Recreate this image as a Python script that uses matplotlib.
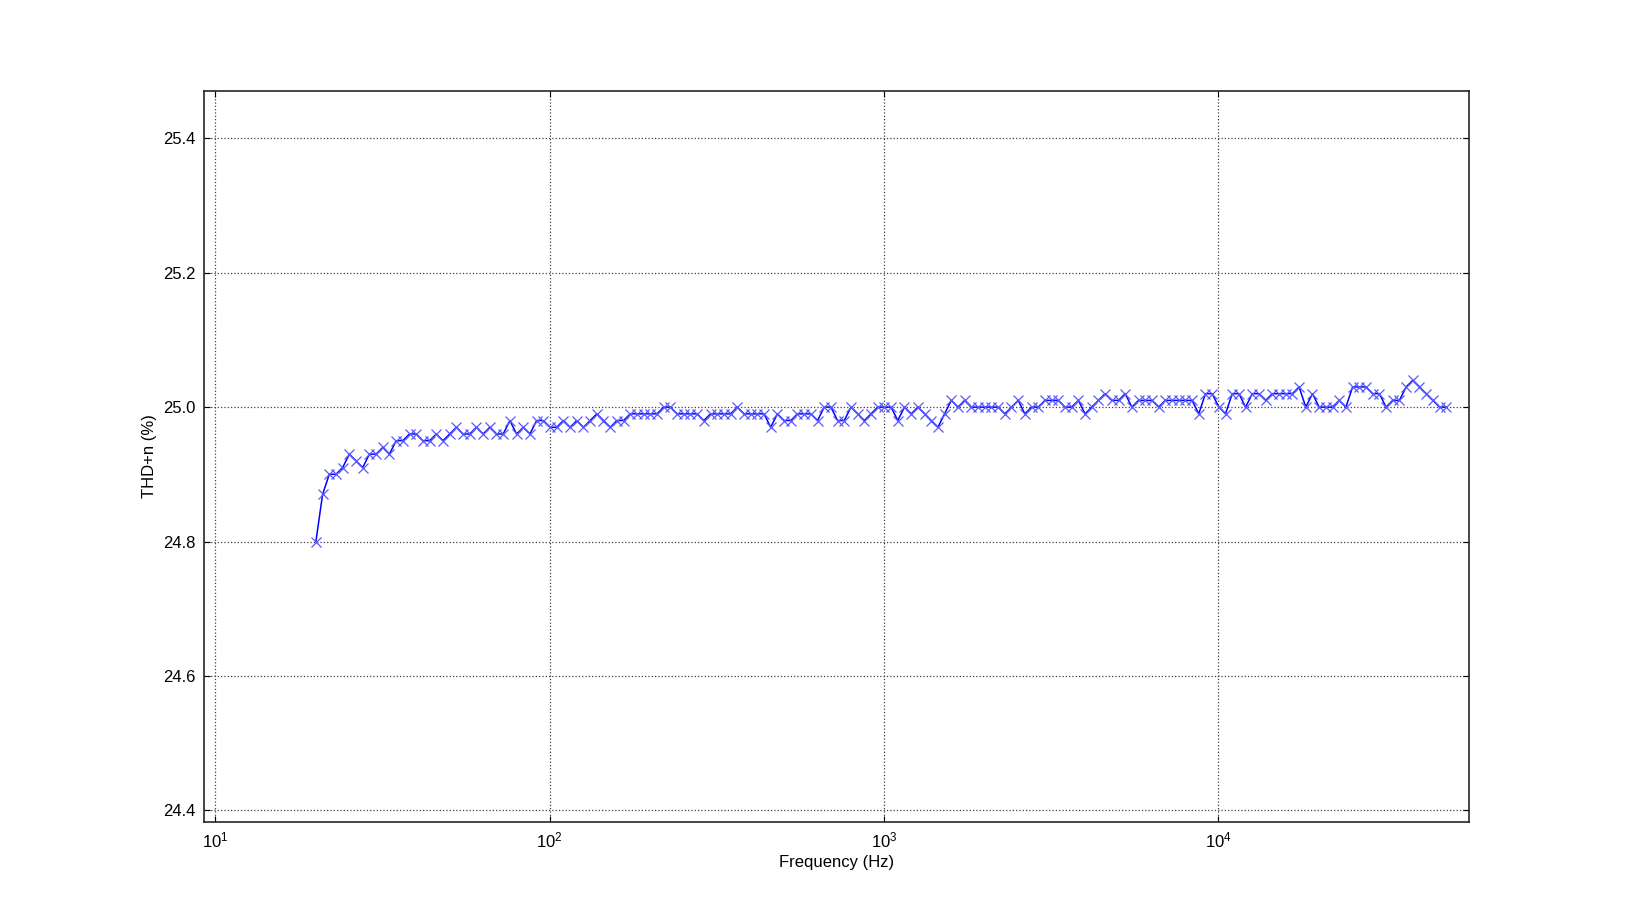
import numpy as np
import matplotlib
matplotlib.use('Agg')
import matplotlib.pyplot as plt
from matplotlib.ticker import LogLocator, FixedLocator, FormatStrFormatter, NullLocator

plt.rcParams['font.family'] = ['Liberation Sans', 'DejaVu Sans']
plt.rcParams['mathtext.fontset'] = 'custom'
plt.rcParams['mathtext.rm'] = 'Liberation Sans'
plt.rcParams['mathtext.it'] = 'Liberation Sans:italic'
plt.rcParams['mathtext.bf'] = 'Liberation Sans:bold'

# sweep: 20 Hz .. 48 kHz, 170 log-spaced steps
f_start = 20.0
f_stop = 48000.0
n_points = 170

thd_n = [
    24.80, 24.87, 24.90, 24.90, 24.91, 24.93, 24.92, 24.91, 24.93, 24.93,
    24.94, 24.93, 24.95, 24.95, 24.96, 24.96, 24.95, 24.95, 24.96, 24.95,
    24.96, 24.97, 24.96, 24.96, 24.97, 24.96, 24.97, 24.96, 24.96, 24.98,
    24.96, 24.97, 24.96, 24.98, 24.98, 24.97, 24.97, 24.98, 24.97, 24.98,
    24.97, 24.98, 24.99, 24.98, 24.97, 24.98, 24.98, 24.99, 24.99, 24.99,
    24.99, 24.99, 25.00, 25.00, 24.99, 24.99, 24.99, 24.99, 24.98, 24.99,
    24.99, 24.99, 24.99, 25.00, 24.99, 24.99, 24.99, 24.99, 24.97, 24.99,
    24.98, 24.98, 24.99, 24.99, 24.99, 24.98, 25.00, 25.00, 24.98, 24.98,
    25.00, 24.99, 24.98, 24.99, 25.00, 25.00, 25.00, 24.98, 25.00, 24.99,
    25.00, 24.99, 24.98, 24.97, 24.99, 25.01, 25.00, 25.01, 25.00, 25.00,
    25.00, 25.00, 25.00, 24.99, 25.00, 25.01, 24.99, 25.00, 25.00, 25.01,
    25.01, 25.01, 25.00, 25.00, 25.01, 24.99, 25.00, 25.01, 25.02, 25.01,
    25.01, 25.02, 25.00, 25.01, 25.01, 25.01, 25.00, 25.01, 25.01, 25.01,
    25.01, 25.01, 24.99, 25.02, 25.02, 25.00, 24.99, 25.02, 25.02, 25.00,
    25.02, 25.02, 25.01, 25.02, 25.02, 25.02, 25.02, 25.03, 25.00, 25.02,
    25.00, 25.00, 25.00, 25.01, 25.00, 25.03, 25.03, 25.03, 25.02, 25.02,
    25.00, 25.01, 25.01, 25.03, 25.04, 25.03, 25.02, 25.01, 25.00, 25.00,
]

freq = np.geomspace(f_start, f_stop, n_points)

fig = plt.figure(figsize=(16.3, 9.13), dpi=100)
fig.subplots_adjust(left=0.125, right=0.901, bottom=0.1, top=0.9)
ax = fig.add_subplot(111)

ax.semilogx(freq, thd_n, color='b', linewidth=1.1, marker='x',
            markersize=7, markeredgewidth=0.9,
            markeredgecolor=(0.35, 0.35, 1.0))

ax.set_xlim(9.24, 5.6e4)
ax.set_ylim(24.383, 25.47)

ax.yaxis.set_major_locator(FixedLocator([24.4, 24.6, 24.8, 25.0, 25.2, 25.4]))
ax.yaxis.set_major_formatter(FormatStrFormatter('%.1f'))
ax.xaxis.set_major_locator(LogLocator(base=10))
ax.xaxis.set_minor_locator(NullLocator())

ax.grid(True, which='major', linestyle=':', color='0.25', linewidth=0.9)
ax.tick_params(which='both', direction='in', top=True, right=True,
               labelsize=12, colors='black')
ax.tick_params(which='major', length=4, width=0.8, pad=6)
for sp in ax.spines.values():
    sp.set_linewidth(1.2)
    sp.set_color('0.15')

ax.set_xlabel('Frequency (Hz)', fontsize=12)
ax.set_ylabel('THD+n (%)', fontsize=12)

fig.savefig('out.png', dpi=100, facecolor='white')
